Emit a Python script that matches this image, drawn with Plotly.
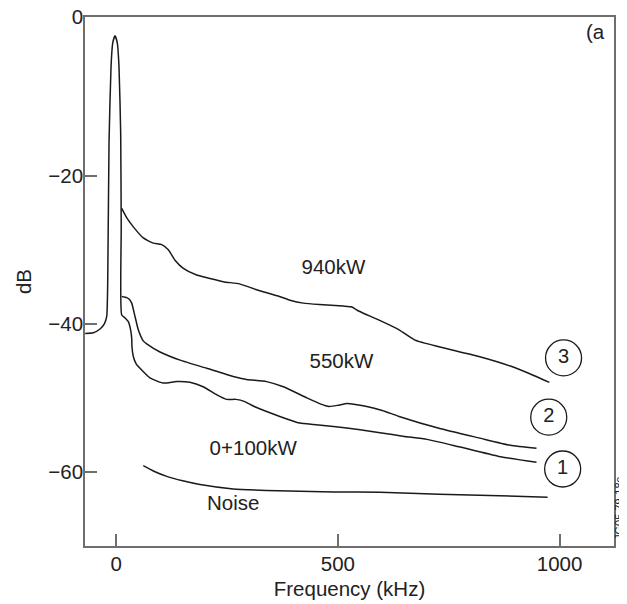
import plotly.graph_objects as go

# ---- data ----
base_x = [-70, -51.6, -36.5, -26.8, -21.4, -19.2, -16.2, -11.7, -7.9, -2.7, 2.5, 6.3, 10.1, 11.3, 12.4,
          20, 27.3, 32.5, 35, 35.5, 38.6, 45, 53.7, 76.2, 106, 136, 166, 196, 227, 249, 270, 290, 309,
          369, 414, 445, 490, 550, 595, 650, 701, 773, 863, 948]
base_y = [-41.3, -41.2, -40.7, -40.0, -39.0, -34.5, -15.5, -5.3, -2.1, -1.1, -2.1, -5.3, -14.3, -27, -38.8,
          -39.2, -39.7, -40.8, -42.0, -43.1, -44.4, -45.4, -46.0, -47.3, -48.0, -47.8, -47.9, -48.5, -49.6, -50.2, -50.2, -50.5, -51.1,
          -52.5, -53.4, -53.6, -53.85, -54.3, -54.7, -55.2, -55.6, -56.6, -57.9, -58.7]

kw940_x = [12.4, 25, 38.6, 61, 83.7, 102.6, 117.6, 132.6, 151.4, 181.5, 241.5, 278, 316.9, 368, 392, 422, 458,
           512, 530, 548, 593, 638, 674, 728, 818, 889, 943, 977]
kw940_y = [-24.4, -25.8, -26.9, -28.4, -29.1, -29.3, -30.0, -31.4, -32.5, -33.4, -34.3, -34.6, -35.4, -36.3, -36.8, -37.2, -37.4,
           -37.6, -37.7, -38.3, -39.5, -40.8, -42.2, -43.1, -44.4, -45.7, -47.0, -47.9]

kw550_x = [12.4, 23.7, 30, 35, 42.4, 49.8, 61, 68.8, 98.8, 144, 204, 264, 294, 339, 377, 430, 460, 480, 500,
           521, 560, 600, 638, 728, 818, 889, 948]
kw550_y = [-36.3, -36.45, -36.7, -37.2, -39.0, -40.8, -42.3, -42.7, -43.8, -44.9, -46.0, -47.1, -47.5, -47.8, -48.5, -50.0, -50.8, -51.15, -51.0,
           -50.75, -51.1, -51.7, -52.5, -54.1, -55.4, -56.4, -56.8]

noise_x = [61, 85, 114, 150, 189, 264, 339, 490, 595, 728, 973]
noise_y = [-59.15, -59.9, -60.6, -61.2, -61.7, -62.3, -62.5, -62.7, -62.75, -63.0, -63.4]

label_text = ["940kW", "550kW", "0+100kW", "Noise"]
label_x = [490, 508, 309, 264]
label_y = [-32.6, -45.3, -57.0, -64.4]

circle_text = ["3", "2", "1"]
circle_x = [1009, 975.6, 1007]
circle_y = [-44.6, -52.6, -59.6]

x_ticks = [0, 500, 1000]
y_top = 1.44
y_ticks = [-60, -40, -20, y_top]
y_ticktext = ["\u221260", "\u221240", "\u221220", "0"]

FONT = "Liberation Sans, Arial, Helvetica, sans-serif"
INK = "#1a1a1a"
AXC = "#6e6e6e"

fig = go.Figure()
line = dict(color=INK, width=1.5, shape="spline", smoothing=0.5)
for xs, ys in [(base_x, base_y), (kw940_x, kw940_y), (kw550_x, kw550_y), (noise_x, noise_y)]:
    fig.add_trace(go.Scatter(x=xs, y=ys, mode="lines", line=line, hoverinfo="skip", showlegend=False))

fig.add_trace(go.Scatter(x=label_x, y=label_y, mode="text", text=label_text,
                         textfont=dict(family=FONT, size=20.5, color="#222"),
                         textposition="middle center", showlegend=False, hoverinfo="skip"))
fig.add_trace(go.Scatter(x=circle_x, y=circle_y, mode="markers+text", text=circle_text,
                         marker=dict(symbol="circle-open", size=36, color=INK, line=dict(width=1.3, color=INK)),
                         textfont=dict(family=FONT, size=20, color="#222"),
                         textposition="middle center", showlegend=False, hoverinfo="skip"))

# page body has an 8px default margin, so the figure is sized to fit the window
fig.update_layout(
    width=619, height=596,
    margin=dict(l=77, r=13, t=9, b=58),
    paper_bgcolor="white", plot_bgcolor="white",
    font=dict(family=FONT, size=20.5, color="#222"),
    xaxis=dict(range=[-70.4, 1122.8], tickvals=x_ticks, ticks="inside", ticklen=12, tickwidth=1.5,
               tickcolor=AXC, showline=True, linecolor=AXC, linewidth=1.5, mirror=True, automargin=False,
               showgrid=False, zeroline=False, tickfont=dict(size=20.5), ticklabelstandoff=-1,
               title=dict(text="Frequency (kHz)", font=dict(size=20.5), standoff=7)),
    yaxis=dict(range=[-70, y_top], tickvals=y_ticks, ticktext=y_ticktext, ticks="inside", ticklen=12,
               tickwidth=1.5, tickcolor=AXC, showline=True, linecolor=AXC, linewidth=1.5, mirror=True,
               automargin=False, showgrid=False, zeroline=False, tickfont=dict(size=20.5),
               ticklabeloverflow="allow",
               ticklabelstandoff=-4, title=dict(text="dB", font=dict(size=20.5), standoff=11)),
    annotations=[
        dict(text="(a", xref="paper", yref="paper", x=1, y=0.9717, xshift=-7, xanchor="right",
             yanchor="middle", showarrow=False, font=dict(size=20.5, color="#222")),
        dict(text="JG05.79-18c", xref="paper", yref="paper", x=1, xshift=5, y=0.07, xanchor="center",
             yanchor="middle", textangle=-90, showarrow=False, font=dict(size=11, color="#222")),
    ],
)

fig.write_html("out.html")
